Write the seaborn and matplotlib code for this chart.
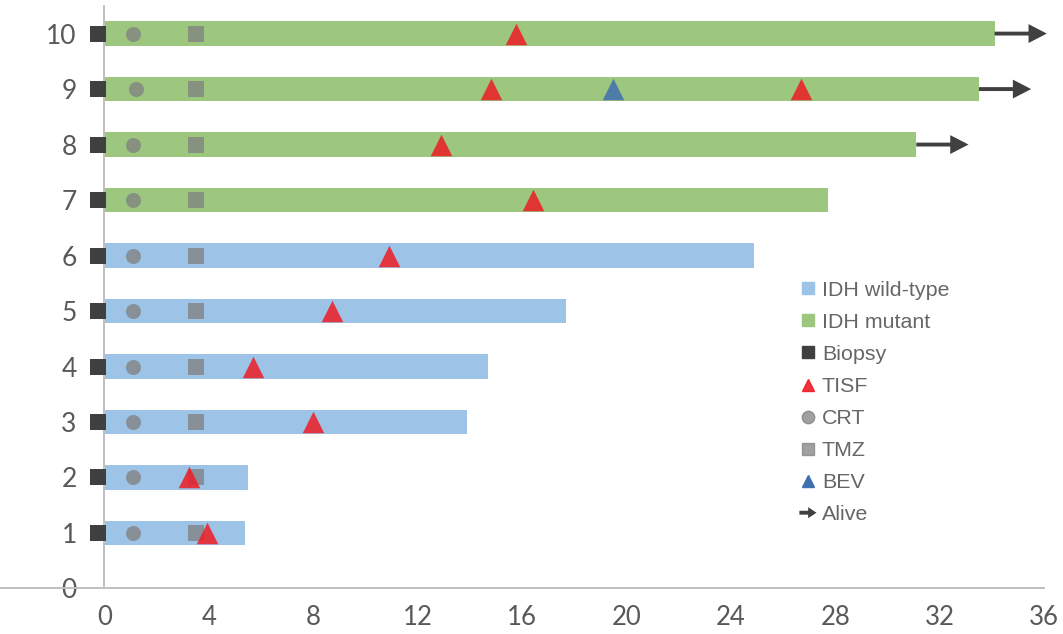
import seaborn as sns
import matplotlib.pyplot as plt
import matplotlib.patches as mpatches
from matplotlib.lines import Line2D
from matplotlib.legend_handler import HandlerPatch
import pandas as pd

# swimmer plot data (months)
patients = [1, 2, 3, 4, 5, 6, 7, 8, 9, 10]
groups = ["IDH wild-type"] * 6 + ["IDH mutant"] * 4
survival = [5.4, 5.5, 13.9, 14.7, 17.7, 24.9, 27.7, 31.1, 33.5, 34.1]
alive = [False] * 7 + [True] * 3
biopsy = [-0.25] * 10
crt = [1.1, 1.1, 1.1, 1.1, 1.1, 1.1, 1.1, 1.1, 1.2, 1.1]
tmz = [3.5] * 10
tisf_patient = [1, 2, 3, 4, 5, 6, 7, 8, 9, 9, 10]
tisf_time = [3.93, 3.25, 8.0, 5.7, 8.7, 10.9, 16.4, 12.9, 14.8, 26.7, 15.75]
bev_patient = [9]
bev_time = [19.5]
arrow_len = 2.0

x_ticks = [0, 4, 8, 12, 16, 20, 24, 28, 32, 36]
y_ticks = [0, 1, 2, 3, 4, 5, 6, 7, 8, 9, 10]

blue = "#9DC3E6"
green = "#9DC67F"
dark = "#404040"
gray = "#808080"
red = "#EE1C25"
bevblue = "#3F6FB0"
txt = "#595959"

sns.set_style("white")
plt.rcParams["font.family"] = ["Lato", "DejaVu Sans"]

df = pd.DataFrame({"patient": patients, "group": groups, "survival": survival,
                   "alive": alive, "biopsy": biopsy, "crt": crt, "tmz": tmz})

fig = plt.figure(figsize=(10.63, 6.34), dpi=100)
ax = fig.add_axes([0, 0.0718, 1, 0.919])

sns.barplot(data=df, x="survival", y="patient", hue="group", orient="h",
            native_scale=True, dodge=False, width=0.44, saturation=1,
            palette={"IDH wild-type": blue, "IDH mutant": green},
            linewidth=0, legend=False, ax=ax, zorder=2)

sns.scatterplot(data=df, x="biopsy", y="patient", marker="s", s=117,
                color=dark, linewidth=0, ax=ax, zorder=4, clip_on=False)
sns.scatterplot(data=df, x="crt", y="patient", marker="o", s=117,
                color=gray, alpha=0.75, linewidth=0, ax=ax, zorder=4)
sns.scatterplot(data=df, x="tmz", y="patient", marker="s", s=117,
                color=gray, alpha=0.75, linewidth=0, ax=ax, zorder=4)
sns.scatterplot(x=tisf_time, y=tisf_patient, marker="^", s=240,
                color=red, alpha=0.85, linewidth=0, ax=ax, zorder=5)
sns.scatterplot(x=bev_time, y=bev_patient, marker="^", s=240,
                color=bevblue, alpha=0.85, linewidth=0, ax=ax, zorder=5)

for p, end, a in zip(patients, survival, alive):
    if a:
        ax.arrow(end, p, arrow_len, 0, width=0.07, head_width=0.34,
                 head_length=0.7, length_includes_head=True,
                 color=dark, linewidth=0, zorder=3)

ax.set_xlim(-4.0, 36.72)
ax.set_ylim(0, 10.5)
ax.set_xticks(x_ticks)
ax.set_yticks(y_ticks)
ax.set_xlabel("")
ax.set_ylabel("")
for s in ["top", "right"]:
    ax.spines[s].set_visible(False)
ax.spines["left"].set_position(("data", 0))
ax.spines["bottom"].set_bounds(-4.0, 36.0)
for s in ["left", "bottom"]:
    ax.spines[s].set_color("#BFBFBF")
    ax.spines[s].set_linewidth(1.4)
ax.tick_params(axis="y", length=0, pad=20, labelsize=19, labelcolor=txt)
ax.tick_params(axis="x", length=0, pad=12, labelsize=18.5, labelcolor=txt)


def make_arrow(legend, orig_handle, xdescent, ydescent, width, height, fontsize):
    return mpatches.FancyArrow(0.0, 0.5 * height - ydescent, width, 0,
                               width=2.8, head_width=8, head_length=6,
                               length_includes_head=True, linewidth=0)


handles = [
    Line2D([], [], marker="s", ls="", color=blue, markersize=9),
    Line2D([], [], marker="s", ls="", color=green, markersize=9),
    Line2D([], [], marker="s", ls="", color=dark, markersize=9),
    Line2D([], [], marker="^", ls="", color=red, alpha=0.9, markersize=9),
    Line2D([], [], marker="o", ls="", color=gray, alpha=0.75, markersize=9),
    Line2D([], [], marker="s", ls="", color=gray, alpha=0.75, markersize=9),
    Line2D([], [], marker="^", ls="", color=bevblue, markersize=9),
    mpatches.FancyArrow(0, 0, 1, 0, color=dark, linewidth=0),
]
labels = ["IDH wild-type", "IDH mutant", "Biopsy", "TISF", "CRT", "TMZ", "BEV", "Alive"]
leg = ax.legend(handles, labels, loc="upper left", bbox_to_anchor=(0.752, 0.557),
                bbox_transform=fig.transFigure, frameon=False,
                prop={"family": "Liberation Sans", "size": 15.4},
                handlelength=0.8, handletextpad=0.25, labelspacing=0.61,
                borderpad=0, borderaxespad=0,
                handler_map={mpatches.FancyArrow: HandlerPatch(patch_func=make_arrow)})
for t in leg.get_texts():
    t.set_color("#666666")

fig.savefig("out.png", dpi=100)
